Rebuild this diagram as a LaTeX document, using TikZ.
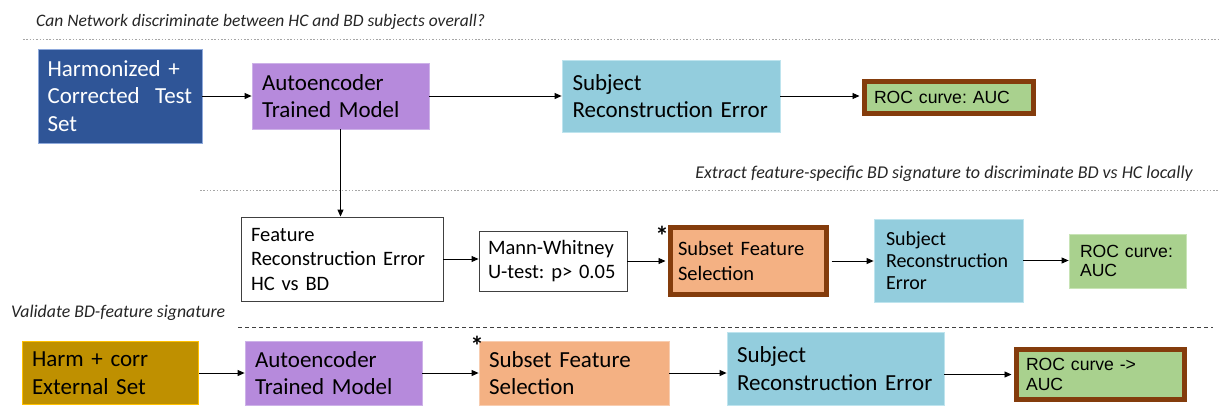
\documentclass[tikz,border=0pt]{standalone}
\usepackage{fontspec}
\setmainfont{Carlito}
\newfontfamily\arialf{Liberation Sans}
\usetikzlibrary{arrows.meta}
\frenchspacing

\definecolor{navy}{RGB}{47,85,151}
\definecolor{navyrim}{RGB}{143,170,220}
\definecolor{lilac}{RGB}{182,138,220}
\definecolor{lilacrim}{RGB}{205,178,232}
\definecolor{aqua}{RGB}{147,205,221}
\definecolor{aquarim}{RGB}{190,228,238}
\definecolor{leaf}{RGB}{169,209,142}
\definecolor{leafrim}{RGB}{200,228,182}
\definecolor{rust}{RGB}{132,60,12}
\definecolor{salmon}{RGB}{244,177,131}
\definecolor{salmonrim}{RGB}{248,205,176}
\definecolor{ochre}{RGB}{191,144,0}
\definecolor{amber}{RGB}{255,192,0}

\tikzset{
  tile/.style={rectangle, inner ysep=0pt, align=left, text=black, line width=0.8pt},
  bigtxt/.style={font=\fontsize{23}{27.5}\selectfont},
  midtxt/.style={font=\fontsize{20.5}{24.5}\selectfont},
  roctxt/.style={font=\arialf\fontsize{17.6}{19.3}\selectfont},
  thickrim/.style={draw=rust, line width=5pt},
  flow/.style={line width=0.9pt, draw=black, -{Triangle[length=7pt,width=6pt]}},
  guide/.style={draw=black!35, line width=0.9pt, dash pattern=on 1.5pt off 1.8pt},
  rule/.style={draw=black!75, line width=0.9pt, dash pattern=on 4pt off 3pt},
  note/.style={font=\fontsize{17.5}{21}\selectfont\itshape, text=black!85, inner sep=0pt},
  star/.style={font=\fontsize{27}{27}\selectfont\bfseries, inner sep=0pt, anchor=base}
}

\begin{document}
\begin{tikzpicture}[x=1pt,y=-1pt]
\useasboundingbox[fill=white] (0,0) rectangle (1220,407);

% section captions and separators
\node[note, anchor=base west] (capA) at (36,26) {Can Network discriminate between HC and BD subjects overall?};
\node[note, font=\fontsize{18}{21}\selectfont\itshape, anchor=base east] (capB) at (1193,178) {Extract feature-specific BD signature to discriminate BD vs HC locally};
\node[note, font=\fontsize{17.8}{21}\selectfont\itshape, anchor=base west] (capC) at (11,317) {Validate BD-feature signature};

\coordinate (gA1) at (23,39.5);   \coordinate (gA2) at (1218,39.5);
\coordinate (gB1) at (200,190.5); \coordinate (gB2) at (1218,190.5);
\coordinate (gC1) at (238,327.5); \coordinate (gC2) at (1213,327.5);
\draw[guide] (gA1) -- (gA2);
\draw[guide] (gB1) -- (gB2);
\draw[rule]  (gC1) -- (gC2);

% first row: whole-subject discrimination
\node[tile, bigtxt, fill=navy, draw=navyrim, text=white, minimum width=164pt, minimum height=94pt,
      inner xsep=9.5pt, text width=145pt] (hct) at (120,96) {Harmonized +\\Corrected\ \ Test\\Set};
\node[tile, bigtxt, fill=lilac, draw=lilacrim, minimum width=177pt, minimum height=66pt,
      inner xsep=10pt, text width=157pt] (aeA) at (340.5,96) {Autoencoder\\Trained Model};
\node[tile, bigtxt, fill=aqua, draw=aquarim, minimum width=218pt, minimum height=72pt,
      inner xsep=10.5pt, text width=197pt] (srA) at (671,96) {Subject\\Reconstruction Error};
\node[tile, roctxt, fill=leaf, thickrim, minimum width=169pt, minimum height=32pt,
      inner xsep=9.5pt, text width=150pt] (rocA) at (949,97.5) {ROC curve: AUC};

% second row: feature-level signature
\node[tile, midtxt, fill=white, draw=black!75, line width=0.9pt, minimum width=202pt, minimum height=84pt,
      inner xsep=10pt, text width=182pt] (fre) at (342,259) {Feature\\Reconstruction Error\\HC vs BD};
\node[tile, midtxt, fill=white, draw=black!75, line width=0.9pt, minimum width=148pt, minimum height=60pt,
      inner xsep=9pt, text width=130pt] (mw) at (553,261) {Mann-Whitney\\U-test: p> 0.05};
\node[tile, font=\fontsize{20.5}{25}\selectfont, fill=salmon, thickrim, minimum width=156pt, minimum height=67pt,
      inner xsep=7.5pt, text width=141pt] (sfsA) at (748.5,261) {Subset Feature\\Selection};
\node[tile, font=\fontsize{20}{21.7}\selectfont, fill=aqua, draw=aquarim, minimum width=149pt, minimum height=83pt,
      inner xsep=12pt, text width=125pt] (srB) at (948.5,260.5) {Subject\\Reconstruction\\Error};
\node[tile, roctxt, fill=leaf, draw=leafrim, minimum width=117pt, minimum height=54pt,
      inner xsep=11pt, text width=95pt] (rocB) at (1127.5,261) {ROC curve:\\AUC};

% third row: external validation
\node[tile, bigtxt, fill=ochre, draw=amber, line width=1.5pt, minimum width=176pt, minimum height=63pt,
      inner xsep=9.5pt, text width=157pt] (ext) at (110.5,373) {Harm + corr\\External Set};
\node[tile, bigtxt, fill=lilac, draw=lilacrim, minimum width=177pt, minimum height=64pt,
      inner xsep=10pt, text width=157pt] (aeB) at (333.5,373) {Autoencoder\\Trained Model};
\node[tile, bigtxt, fill=salmon, draw=salmonrim, minimum width=190pt, minimum height=64pt,
      inner xsep=10pt, text width=170pt] (sfsB) at (574,373) {Subset Feature\\Selection};
\node[tile, bigtxt, fill=aqua, draw=aquarim, minimum width=217pt, minimum height=73pt,
      inner xsep=10pt, text width=197pt] (srC) at (835.5,368.5) {Subject\\Reconstruction Error};
\node[tile, roctxt, fill=leaf, thickrim, minimum width=168pt, minimum height=50pt,
      inner xsep=9.5pt, text width=149pt] (rocC) at (1100.5,374.5) {ROC curve -{}>\\AUC};

% markers on the feature-selection steps
\node[star] (stA) at (662,245) {*};
\node[star] (stB) at (477,355) {*};

% connectors
\draw[flow] (hct.east) -- (hct.east -| aeA.west);
\draw[flow] (aeA.east) -- (aeA.east -| srA.west);
\draw[flow, shorten >=2.5pt] (srA.east) -- (srA.east -| rocA.west);
\draw[flow] (aeA.south) -- (aeA.south |- fre.north);

\draw[flow] (fre.east) -- (fre.east -| mw.west);
\draw[flow, shorten >=2.5pt] (mw.east) -- (mw.east -| sfsA.west);
\draw[flow, shorten <=2.5pt] (sfsA.east) -- (sfsA.east -| srB.west);
\draw[flow] (srB.east) -- (srB.east -| rocB.west);

\draw[flow] (ext.east) -- (ext.east -| aeB.west);
\draw[flow] (aeB.east) -- (aeB.east -| sfsB.west);
\draw[flow] (sfsB.east) -- (sfsB.east -| srC.west);
\draw[flow, shorten >=2.5pt] (rocC.west -| srC.east) -- (rocC.west);
\end{tikzpicture}
\end{document}
